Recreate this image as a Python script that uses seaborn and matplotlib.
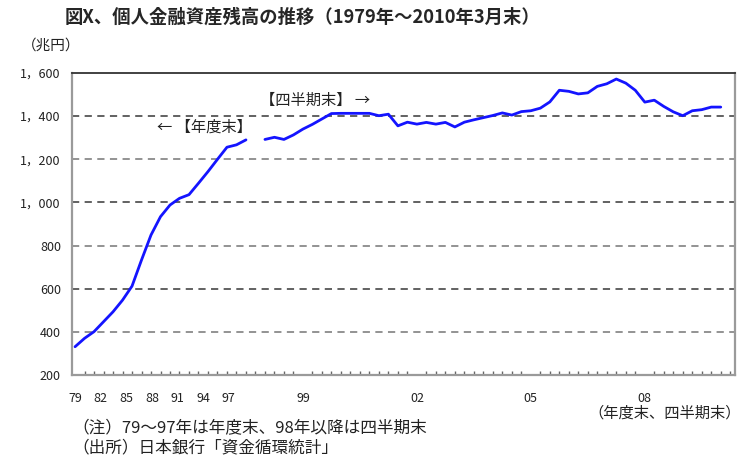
import numpy as np
import pandas as pd
import matplotlib
matplotlib.use("Agg")
import matplotlib.pyplot as plt
import seaborn as sns

# ---------------- data ----------------
annual_years = list(range(1979, 1998))          # 年度末 1979-1997
annual_values = [331, 370, 401, 447, 493, 547, 612, 733, 849, 934,
                 988, 1019, 1036, 1089, 1143, 1200, 1256, 1267, 1290]

quarter_labels = [f"{y}Q{q}" for y in range(1998, 2011) for q in range(1, 5)][:49]  # 1998Q1-2010Q1
quarter_values = [1292, 1302, 1292, 1313, 1340, 1362, 1387, 1412, 1413, 1413,
                  1413, 1413, 1402, 1409, 1355, 1372, 1363, 1371, 1363, 1371,
                  1350, 1372, 1383, 1393, 1403, 1415, 1405, 1421, 1425, 1437,
                  1466, 1520, 1515, 1503, 1508, 1538, 1550, 1572, 1553, 1520,
                  1465, 1474, 1445, 1420, 1402, 1425, 1430, 1442, 1442]

x_tick_labels = ["79", "82", "85", "88", "91", "94", "97", "99", "02", "05", "08"]
y_ticks = [200, 400, 600, 800, 1000, 1200, 1400, 1600]

title = "図X、個人金融資産残高の推移（1979年～2010年3月末）"
unit_label = "（兆円）"
axis_note = "（年度末、四半期末）"
note1 = "（注）79～97年は年度末、98年以降は四半期末"
note2 = "（出所）日本銀行「資金循環統計」"
ann_annual = "← 【年度末】"
ann_quarter = "【四半期末】 →"

# ---------------- layout positions (slot index) ----------------
annual_pos = np.arange(len(annual_years))
quarter_pos = 20 + np.arange(len(quarter_values))
x_tick_pos = [0, 2.7, 5.4, 8.1, 10.8, 13.5, 16.2, 24, 36, 48, 60]

df_a = pd.DataFrame({"pos": annual_pos, "value": annual_values})
df_q = pd.DataFrame({"pos": quarter_pos, "value": quarter_values})

sns.set_style("white")
plt.rcParams["font.family"] = ["Noto Sans CJK JP", "DejaVu Sans"]

fig = plt.figure(figsize=(7.42, 4.59), dpi=100)
ax = fig.add_axes([72 / 742, 1 - 375 / 459, (735 - 72) / 742, (375 - 73) / 459])

# grid lines
for yv in y_ticks[1:-1]:
    col = "#555555" if yv in (600, 1000, 1400) else "#8a8a8a"
    ax.axhline(yv, color=col, lw=1.3, ls=(0, (4, 3)), zorder=1)

line_col = "#1414ff"
sns.lineplot(data=df_a, x="pos", y="value", ax=ax, color=line_col, lw=2.0, zorder=3)
sns.lineplot(data=df_q, x="pos", y="value", ax=ax, color=line_col, lw=2.0, zorder=3)

ax.set_xlim(-0.32, 69.5)
ax.set_ylim(200, 1600)
ax.set_xlabel("")
ax.set_ylabel("")

ax.set_yticks(y_ticks)
ax.set_yticklabels([f"{v:,}".replace(",", "，") for v in y_ticks], fontsize=9, color="#222222")
ax.tick_params(axis="y", length=0, pad=8)

ax.set_xticks(x_tick_pos)
ax.set_xticklabels(x_tick_labels, fontsize=9, color="#222222")
ax.set_xticks(np.arange(0, 70), minor=True)
ax.tick_params(axis="x", which="major", length=0, pad=12)
ax.tick_params(axis="x", which="minor", direction="in", length=3, width=1, color="#666666", bottom=True)

for side in ["left", "bottom", "right"]:
    ax.spines[side].set_color("#9a9a9a")
    ax.spines[side].set_linewidth(1.6)
ax.spines["top"].set_color("#333333")
ax.spines["top"].set_linewidth(1.3)

# texts
fig.text(65 / 742, 1 - 17 / 459, title, fontsize=13.2, fontweight="bold", va="center", ha="left")
fig.text(22 / 742, 1 - 46 / 459, unit_label, fontsize=10.5, va="center", ha="left", color="#222222")
fig.text(741 / 742, 1 - 413 / 459, axis_note, fontsize=11, va="center", ha="right", color="#222222")
fig.text(72 / 742, 1 - 429 / 459, note1, fontsize=12, va="center", ha="left", color="#222222")
fig.text(72 / 742, 1 - 448 / 459, note2, fontsize=12, va="center", ha="left", color="#222222")

ax.annotate(ann_annual, xy=(annual_pos[-1] + 0.6, 1350), fontsize=11, ha="right", va="center", color="#222222")
ax.annotate(ann_quarter, xy=(quarter_pos[0] - 0.5, 1475), fontsize=11, ha="left", va="center", color="#222222")

fig.savefig("out.png", dpi=100)
